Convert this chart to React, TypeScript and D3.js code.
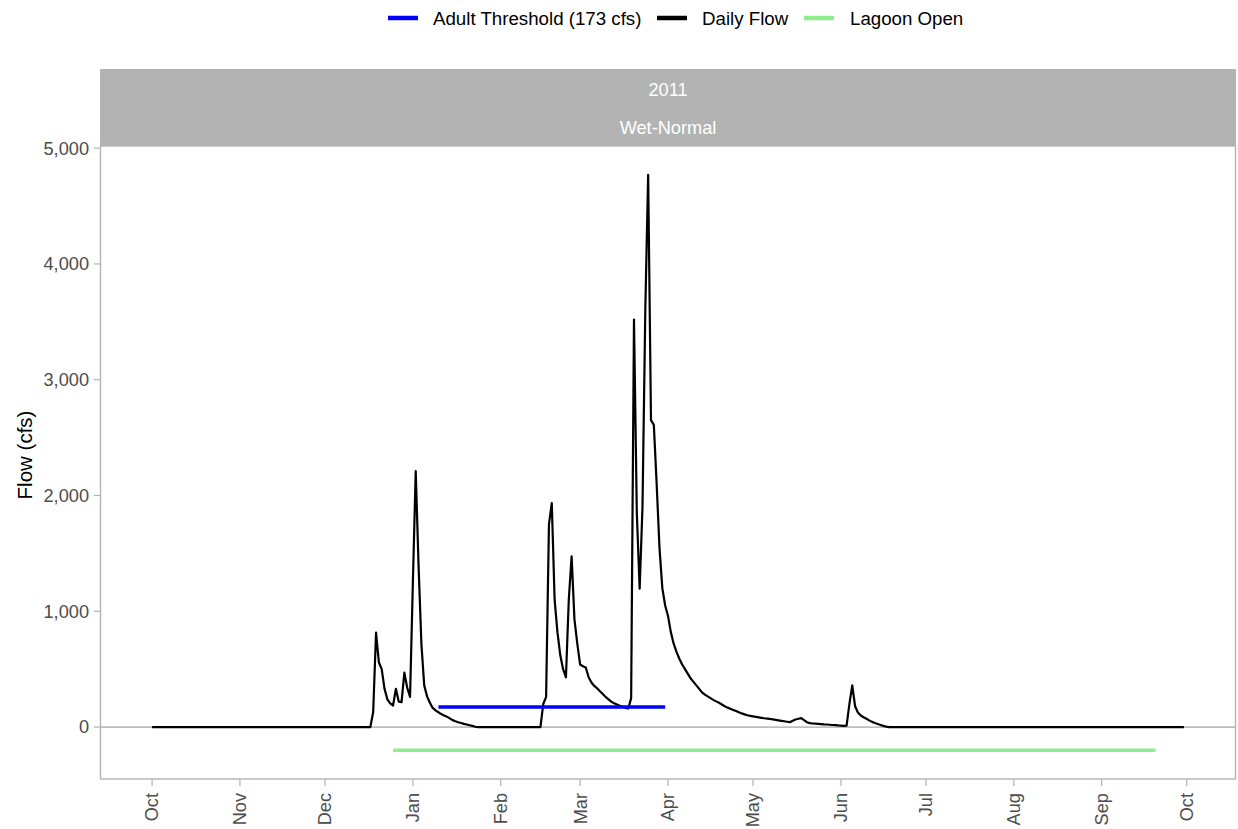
import React from "react";
import * as d3 from "d3";

// ---------- data ----------
const seriesStart = "2010-10-01"; // first day of the daily series (water year 2011)

// Daily flow (cfs), Oct 1 2010 .. Sep 30 2011
const dailyFlow: number[] = [
  0, 0, 0, 0, 0, 0, 0, 0, 0, 0,
  0, 0, 0, 0, 0, 0, 0, 0, 0, 0,
  0, 0, 0, 0, 0, 0, 0, 0, 0, 0,
  0, 0, 0, 0, 0, 0, 0, 0, 0, 0,
  0, 0, 0, 0, 0, 0, 0, 0, 0, 0,
  0, 0, 0, 0, 0, 0, 0, 0, 0, 0,
  0, 0, 0, 0, 0, 0, 0, 0, 0, 0,
  0, 0, 0, 0, 0, 0, 0, 0,
  130, 815, 560, 500, 330, 240, 205, 185, 330, 220,
  215, 470, 340, 260, 1250, 2210, 1400, 720, 360, 265,
  210, 165, 145, 128, 112, 100, 90, 75, 60, 50,
  42, 35, 28, 22, 16, 10, 3,
  0, 0, 0, 0, 0, 0, 0, 0, 0, 0,
  0, 0, 0, 0, 0, 0, 0, 0, 0, 0,
  0, 0, 0,
  200, 260, 1750, 1935, 1100, 820, 620, 500, 430, 1100,
  1475, 930, 720, 540, 525, 515, 430, 385, 355, 335,
  310, 285, 260, 240, 220, 205, 195, 185, 175, 165,
  160, 250, 3520, 1850, 1195, 1900, 3615, 4770, 2650, 2610,
  2100, 1545, 1200, 1050, 960, 820, 720, 650, 590, 540,
  500, 460, 420, 390, 360, 330, 300, 280, 265, 250,
  235, 222, 210, 195, 180, 168, 158, 148, 138, 128,
  118, 110, 102, 97, 92, 88, 84, 80, 76, 73,
  70, 66, 62, 58, 54, 50, 46, 42, 55, 65,
  72, 77, 60, 42, 34, 31, 29, 27, 25, 23,
  22, 20, 18, 16, 14, 13, 11, 12, 200, 360,
  180, 125, 100, 85, 72, 58, 45, 35, 26, 18,
  10, 4,
  0, 0, 0, 0, 0, 0, 0, 0, 0, 0,
  0, 0, 0, 0, 0, 0, 0, 0, 0, 0,
  0, 0, 0, 0, 0, 0, 0, 0, 0, 0,
  0, 0, 0, 0, 0, 0, 0, 0, 0, 0,
  0, 0, 0, 0, 0, 0, 0, 0, 0, 0,
  0, 0, 0, 0, 0, 0, 0, 0, 0, 0,
  0, 0, 0, 0, 0, 0, 0, 0, 0, 0,
  0, 0, 0, 0, 0, 0, 0, 0, 0, 0,
  0, 0, 0, 0, 0, 0, 0, 0, 0, 0,
  0, 0, 0, 0, 0, 0, 0, 0, 0, 0,
  0, 0, 0, 0, 0,
];

const thresholdDates = ["2011-01-10", "2011-03-31"];
const thresholdValue = 173;
const lagoonDates = ["2010-12-25", "2011-09-20"];
const lagoonValue = -200;

const legendLabels = ["Adult Threshold (173 cfs)", "Daily Flow", "Lagoon Open"];
const legendColors = ["#0000FF", "#000000", "#90EE90"];
const stripLabels = ["2011", "Wet-Normal"];
const yTickValues = [0, 1000, 2000, 3000, 4000, 5000];
const yTitle = "Flow (cfs)";

// ---------- layout ----------
const W = 1238;
const H = 829;
const panel = { left: 100.5, right: 1235.5, top: 146, bottom: 779 };
const strip = { top: 69, bottom: 146 };
const FONT = "'Liberation Sans', Arial, Helvetica, sans-serif";
const GREY70 = "#B3B3B3";
const GREY30 = "#4D4D4D";

const parse = d3.utcParse("%Y-%m-%d");
const DAY = 86400000;

export default function App() {
  const start = parse(seriesStart)!;
  const series = dailyFlow.map((v, i) => ({ date: new Date(start.getTime() + i * DAY), value: v }));

  const xMin = series[0].date.getTime();
  const xMax = series[series.length - 1].date.getTime();
  const xPad = (xMax - xMin) * 0.05;
  const x = d3
    .scaleUtc()
    .domain([new Date(xMin - xPad), new Date(xMax + xPad)])
    .range([panel.left, panel.right]);

  const yLo = Math.min(lagoonValue, d3.min(dailyFlow)!);
  const yHi = Math.max(d3.max(dailyFlow)!, thresholdValue);
  const yPad = (yHi - yLo) * 0.05;
  const y = d3
    .scaleLinear()
    .domain([yLo - yPad, yHi + yPad])
    .range([panel.bottom, panel.top]);

  const line = d3
    .line<{ date: Date; value: number }>()
    .x((d) => x(d.date))
    .y((d) => y(d.value));

  const monthTicks = d3.utcMonth
    .range(d3.utcMonth.ceil(new Date(xMin)), d3.utcMonth.offset(d3.utcMonth.floor(new Date(xMax)), 2))
    .filter((d) => x(d) <= panel.right);
  const fmtMonth = d3.utcFormat("%b");
  const fmtNum = d3.format(",");

  const th = thresholdDates.map((s) => parse(s)!);
  const lg = lagoonDates.map((s) => parse(s)!);

  const legendItems = [
    { key0: 388, key1: 418, text: 433 },
    { key0: 657, key1: 687, text: 702 },
    { key0: 804, key1: 834, text: 850 },
  ];

  return (
    <svg
      width={W}
      height={H}
      style={{ position: "absolute", left: 0, top: 0, background: "#fff" }}
      fontFamily={FONT}
    >
      <rect x={0} y={0} width={W} height={H} fill="#fff" />

      {/* legend */}
      <g>
        {legendLabels.map((lab, i) => (
          <g key={lab}>
            <line
              x1={legendItems[i].key0}
              x2={legendItems[i].key1}
              y1={18}
              y2={18}
              stroke={legendColors[i]}
              strokeWidth={4.5}
            />
            <text x={legendItems[i].text} y={18} dy="0.35em" fontSize={18.7} fill="#000">
              {lab}
            </text>
          </g>
        ))}
      </g>

      {/* strip */}
      <rect
        x={panel.left - 0.5}
        y={strip.top}
        width={panel.right - panel.left + 1}
        height={strip.bottom - strip.top}
        fill={GREY70}
      />
      <text x={(panel.left + panel.right) / 2} y={96} textAnchor="middle" fontSize={18.2} fill="#fff">
        {stripLabels[0]}
      </text>
      <text x={(panel.left + panel.right) / 2} y={134} textAnchor="middle" fontSize={18.2} fill="#fff">
        {stripLabels[1]}
      </text>

      {/* zero reference line */}
      <line x1={panel.left} x2={panel.right} y1={y(0)} y2={y(0)} stroke="#BEBEBE" strokeWidth={1.8} />

      {/* lagoon open */}
      <line
        x1={x(lg[0])}
        x2={x(lg[1])}
        y1={y(lagoonValue)}
        y2={y(lagoonValue)}
        stroke={legendColors[2]}
        strokeWidth={3.6}
      />

      {/* daily flow */}
      <path
        d={line(series) || ""}
        fill="none"
        stroke={legendColors[1]}
        strokeWidth={2.2}
        strokeLinejoin="round"
      />

      {/* adult threshold */}
      <line
        x1={x(th[0])}
        x2={x(th[1])}
        y1={y(thresholdValue)}
        y2={y(thresholdValue)}
        stroke={legendColors[0]}
        strokeWidth={3.6}
      />

      {/* panel border */}
      <rect
        x={panel.left}
        y={panel.top}
        width={panel.right - panel.left}
        height={panel.bottom - panel.top}
        fill="none"
        stroke={GREY70}
        strokeWidth={1.4}
      />

      {/* y axis */}
      <g>
        {yTickValues.map((v) => (
          <g key={v}>
            <line x1={94} x2={panel.left} y1={y(v)} y2={y(v)} stroke={GREY70} strokeWidth={1.2} />
            <text x={89} y={y(v)} dy="0.35em" textAnchor="end" fontSize={18.2} fill={GREY30}>
              {fmtNum(v)}
            </text>
          </g>
        ))}
      </g>
      <text transform={`translate(32, 455) rotate(-90)`} textAnchor="middle" fontSize={20.5} fill="#000">
        {yTitle}
      </text>

      {/* x axis */}
      <g>
        {monthTicks.map((d) => (
          <g key={d.toISOString()}>
            <line x1={x(d)} x2={x(d)} y1={panel.bottom} y2={786} stroke={GREY70} strokeWidth={1.2} />
            <text
              transform={`translate(${x(d)}, 793) rotate(-90)`}
              dy="0.35em"
              textAnchor="end"
              fontSize={18.2}
              fill={GREY30}
            >
              {fmtMonth(d)}
            </text>
          </g>
        ))}
      </g>
    </svg>
  );
}
